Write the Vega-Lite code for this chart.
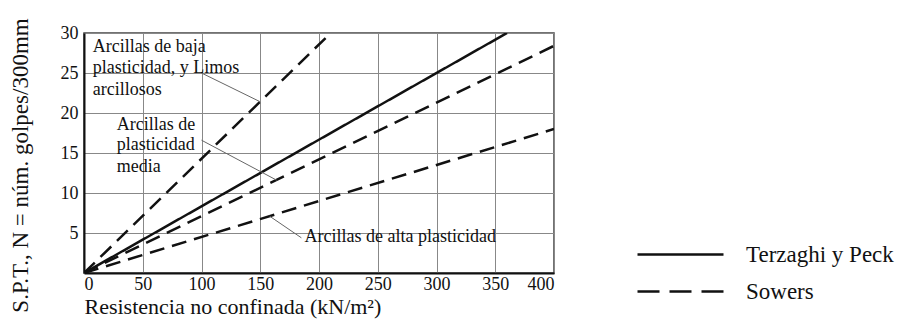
{
  "$schema": "https://vega.github.io/schema/vega-lite/v6.json",
  "width": 470,
  "height": 240,
  "autosize": {"type": "none"},
  "padding": {"left": 84, "top": 33, "right": 354, "bottom": 51},
  "background": "white",
  "config": {
    "font": "Liberation Serif",
    "view": {"stroke": "#444", "strokeWidth": 1.5},
    "axis": {
      "labelFont": "Liberation Serif",
      "labelFontSize": 18,
      "labelColor": "#111",
      "labelOverlap": false,
      "titleFont": "Liberation Serif",
      "titleFontSize": 22,
      "titleFontWeight": "normal",
      "titleColor": "#111",
      "gridColor": "#888",
      "gridWidth": 1,
      "gridOpacity": 1,
      "ticks": false,
      "domainColor": "#111",
      "domainWidth": 2
    },
    "legend": {"labelFont": "Liberation Serif"}
  },
  "datasets": {
    "lineas": [
      {"serie": "Terzaghi y Peck", "grupo": "tp", "q": 0, "N": 0},
      {"serie": "Terzaghi y Peck", "grupo": "tp", "q": 360, "N": 30},
      {"serie": "Sowers", "grupo": "baja", "q": 0, "N": 0},
      {"serie": "Sowers", "grupo": "baja", "q": 210, "N": 30},
      {"serie": "Sowers", "grupo": "media", "q": 0, "N": 0},
      {"serie": "Sowers", "grupo": "media", "q": 400, "N": 28.4},
      {"serie": "Sowers", "grupo": "alta", "q": 0, "N": 0},
      {"serie": "Sowers", "grupo": "alta", "q": 400, "N": 18}
    ],
    "leyenda": [
      {"serie": "Terzaghi y Peck", "q": 0, "N": 0},
      {"serie": "Sowers", "q": 0, "N": 0}
    ],
    "guias": [
      {"q": 100, "N": 25, "q2": 150, "N2": 21.4},
      {"q": 100, "N": 16.6, "q2": 164, "N2": 11.6},
      {"q": 158, "N": 7.1, "q2": 185, "N2": 4.4}
    ],
    "textos": [
      {"q": 7.5, "N": 28.25, "texto": "Arcillas de baja"},
      {"q": 7.5, "N": 25.6, "texto": "plasticidad, y Limos"},
      {"q": 7.5, "N": 22.9, "texto": "arcillosos"},
      {"q": 27.8, "N": 18.5, "texto": "Arcillas de"},
      {"q": 27.8, "N": 16.0, "texto": "plasticidad"},
      {"q": 27.8, "N": 13.3, "texto": "media"},
      {"q": 187.7, "N": 4.5, "texto": "Arcillas de alta plasticidad"}
    ]
  },
  "encoding": {
    "x": {
      "field": "q", "type": "quantitative",
      "scale": {"domain": [0, 400], "nice": false},
      "axis": {
        "values": [0, 50, 100, 150, 200, 250, 300, 350, 400],
        "labelPadding": 2,
        "title": "Resistencia no confinada (kN/m²)",
        "titleAnchor": "start",
        "titlePadding": 3
      }
    },
    "y": {
      "field": "N", "type": "quantitative",
      "scale": {"domain": [0, 30], "nice": false},
      "axis": {
        "values": [0, 5, 10, 15, 20, 25, 30],
        "labelExpr": "datum.value == 0 ? '' : datum.label",
        "labelPadding": 6,
        "title": "S.P.T., N = núm. golpes/300mm",
        "titleFontSize": 23,
        "titleX": -57,
        "titleY": 132,
        "titleAngle": -90,
        "titleAlign": "center",
        "titleBaseline": "alphabetic"
      }
    }
  },
  "layer": [
    {
      "data": {"name": "lineas"},
      "mark": {"type": "line", "color": "#111", "strokeWidth": 2.5, "clip": true},
      "encoding": {
        "detail": {"field": "grupo"},
        "strokeDash": {
          "field": "serie", "type": "nominal",
          "scale": {"domain": ["Terzaghi y Peck", "Sowers"], "range": [[1, 0], [15, 8]]},
          "legend": null
        }
      }
    },
    {
      "data": {"name": "leyenda"},
      "mark": {"type": "line", "color": "#111", "strokeWidth": 2.5},
      "encoding": {
        "strokeDash": {
          "field": "serie", "type": "nominal",
          "scale": {"domain": ["Terzaghi y Peck", "Sowers"], "range": [[1, 0], [22, 10]]},
          "legend": {
            "title": null,
            "orient": "none",
            "legendX": 552,
            "legendY": 203,
            "padding": 0,
            "symbolType": "stroke",
            "symbolSize": 7396,
            "symbolStrokeWidth": 2.5,
            "symbolStrokeColor": "#111",
            "labelFontSize": 23,
            "labelColor": "#111",
            "labelOffset": 21,
            "clipHeight": 37,
            "rowPadding": 0
          }
        }
      }
    },
    {
      "data": {"name": "guias"},
      "mark": {"type": "rule", "color": "#666", "strokeWidth": 1},
      "encoding": {
        "x2": {"field": "q2"},
        "y2": {"field": "N2"}
      }
    },
    {
      "data": {"name": "textos"},
      "mark": {"type": "text", "align": "left", "baseline": "middle", "font": "Liberation Serif", "fontSize": 18, "color": "#111"},
      "encoding": {
        "text": {"field": "texto"}
      }
    }
  ],
  "resolve": {"scale": {"strokeDash": "independent"}}
}
